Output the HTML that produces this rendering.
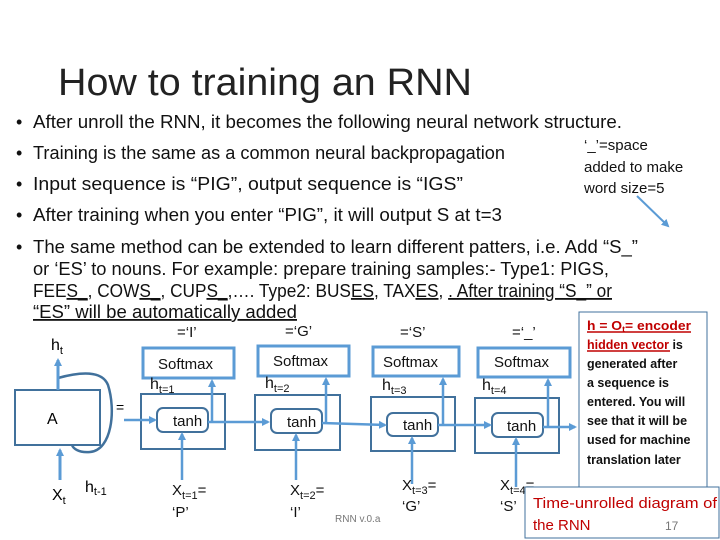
<!DOCTYPE html>
<html><head><meta charset="utf-8"><style>
html,body{margin:0;padding:0;background:#fff;}
svg{display:block;}
text{font-family:"Liberation Sans",sans-serif;}
</style></head><body>
<svg width="720" height="540" viewBox="0 0 720 540" xmlns="http://www.w3.org/2000/svg">
<defs>
<marker id="ar" markerWidth="8" markerHeight="8" refX="6" refY="4" orient="auto" markerUnits="userSpaceOnUse">
<path d="M0,0 L8,4 L0,8 z" fill="#5b9bd5"/></marker>
</defs>
<text x="58" y="95" font-size="38" fill="#222" textLength="414" lengthAdjust="spacingAndGlyphs">How to training an RNN</text>
<g font-size="18" fill="#111">
<text x="16" y="128">•</text><text x="33" y="128" textLength="589" lengthAdjust="spacingAndGlyphs">After unroll the RNN, it becomes the following neural network structure.</text>
<text x="16" y="159">•</text><text x="33" y="159" textLength="472" lengthAdjust="spacingAndGlyphs">Training is the same as a common neural backpropagation</text>
<text x="16" y="190">•</text><text x="33" y="190" textLength="430" lengthAdjust="spacingAndGlyphs">Input sequence is “PIG”, output sequence is “IGS”</text>
<text x="16" y="221">•</text><text x="33" y="221" textLength="469" lengthAdjust="spacingAndGlyphs">After training when you enter “PIG”, it will output S at t=3</text>
<text x="16" y="253">•</text><text x="33" y="253" textLength="605" lengthAdjust="spacingAndGlyphs">The same method can be extended to learn different patters, i.e. Add “S_”</text>
<text x="33" y="275" textLength="576" lengthAdjust="spacingAndGlyphs">or ‘ES’ to nouns. For example: prepare training samples:-  Type1:  PIGS,</text>
<text x="33" y="297" textLength="579" lengthAdjust="spacingAndGlyphs">FEE<tspan text-decoration="underline">S_</tspan>, COW<tspan text-decoration="underline">S_</tspan>, CUP<tspan text-decoration="underline">S_</tspan>,….  Type2: BUS<tspan text-decoration="underline">ES</tspan>, TAX<tspan text-decoration="underline">ES</tspan>, <tspan text-decoration="underline">.  After training “S_” or</tspan></text>
<text x="33" y="318" textLength="264" lengthAdjust="spacingAndGlyphs" text-decoration="underline">“ES” will be automatically added</text>
</g>
<g font-size="15" fill="#111">
<text x="584" y="150">‘_’=space</text>
<text x="584" y="172">added to make</text>
<text x="584" y="193">word size=5</text>
</g>
<line x1="637" y1="196" x2="668" y2="226" stroke="#5b9bd5" stroke-width="2" marker-end="url(#ar)"/>

<!-- folded A -->
<rect x="15" y="390" width="85" height="55" fill="none" stroke="#41719c" stroke-width="2"/>
<text x="47" y="424" font-size="16">A</text>
<path d="M58,378 C80,372 102,370 108,385 C116,410 112,450 90,452 C78,453 73,448 72,445" fill="none" stroke="#41719c" stroke-width="2.5"/>
<g stroke="#5b9bd5" stroke-width="3" fill="none">
<line x1="58" y1="390" x2="58" y2="360" marker-end="url(#ar)"/>
<line x1="60" y1="480" x2="60" y2="450" marker-end="url(#ar)"/>
</g>
<text x="51" y="350" font-size="16">h<tspan font-size="11" dy="4">t</tspan></text>
<text x="52" y="500" font-size="16">X<tspan font-size="11" dy="4">t</tspan></text>
<text x="85" y="492" font-size="16">h<tspan font-size="11" dy="3">t-1</tspan></text>
<text x="116" y="412" font-size="14">=</text>

<g stroke="#41719c" stroke-width="2" fill="none">
<rect x="141" y="394" width="84" height="55"/><rect x="255" y="395" width="85" height="55"/>
<rect x="371" y="397" width="84" height="54"/><rect x="475" y="398" width="84" height="55"/>
<rect x="157" y="408" width="51" height="24" rx="6" fill="#fff"/><rect x="271" y="409" width="51" height="24" rx="6" fill="#fff"/>
<rect x="387" y="413" width="51" height="23" rx="6" fill="#fff"/><rect x="492" y="413" width="51" height="24" rx="6" fill="#fff"/>
</g>
<g stroke="#5b9bd5" stroke-width="3" fill="none">
<rect x="143" y="348" width="91" height="30"/><rect x="258" y="346" width="91" height="30"/>
<rect x="373" y="347" width="86" height="29"/><rect x="478" y="348" width="92" height="29"/>
</g>
<g stroke="#5b9bd5" stroke-width="2.5" fill="none">
<line x1="124" y1="420" x2="155" y2="420" marker-end="url(#ar)"/>
<line x1="208" y1="422" x2="268" y2="422" marker-end="url(#ar)"/>
<line x1="322" y1="423" x2="385" y2="425" marker-end="url(#ar)"/>
<line x1="438" y1="425" x2="490" y2="425" marker-end="url(#ar)"/>
<line x1="543" y1="427" x2="575" y2="427" marker-end="url(#ar)"/>
<line x1="212" y1="422" x2="212" y2="381" marker-end="url(#ar)"/>
<line x1="326" y1="423" x2="326" y2="379" marker-end="url(#ar)"/>
<line x1="443" y1="425" x2="443" y2="379" marker-end="url(#ar)"/>
<line x1="548" y1="427" x2="548" y2="380" marker-end="url(#ar)"/>
<line x1="182" y1="480" x2="182" y2="434" marker-end="url(#ar)"/>
<line x1="296" y1="480" x2="296" y2="435" marker-end="url(#ar)"/>
<line x1="412" y1="484" x2="412" y2="438" marker-end="url(#ar)"/>
<line x1="516" y1="487" x2="516" y2="439" marker-end="url(#ar)"/>
</g>
<g font-size="15" fill="#111">
<text x="158" y="369">Softmax</text><text x="273" y="366">Softmax</text>
<text x="383" y="367">Softmax</text><text x="494" y="367">Softmax</text>
<text x="173" y="426">tanh</text><text x="287" y="427">tanh</text>
<text x="403" y="430">tanh</text><text x="507" y="431">tanh</text>
<text x="177" y="337">=‘I’</text><text x="285" y="336">=‘G’</text>
<text x="400" y="337">=‘S’</text><text x="512" y="337">=‘_’</text>
<text x="150" y="389" font-size="16">h<tspan font-size="11" dy="4">t=1</tspan></text>
<text x="265" y="388" font-size="16">h<tspan font-size="11" dy="4">t=2</tspan></text>
<text x="382" y="390" font-size="16">h<tspan font-size="11" dy="4">t=3</tspan></text>
<text x="482" y="390" font-size="16">h<tspan font-size="11" dy="4">t=4</tspan></text>
<text x="172" y="495">X<tspan font-size="11" dy="4">t=1</tspan><tspan dy="-4">=</tspan></text><text x="172" y="517">‘P’</text>
<text x="290" y="495">X<tspan font-size="11" dy="4">t=2</tspan><tspan dy="-4">=</tspan></text><text x="290" y="517">‘I’</text>
<text x="402" y="490">X<tspan font-size="11" dy="4">t=3</tspan><tspan dy="-4">=</tspan></text><text x="402" y="511">‘G’</text>
<text x="500" y="490">X<tspan font-size="11" dy="4">t=4</tspan><tspan dy="-4">=</tspan></text><text x="500" y="511">‘S’</text>
</g>
<text x="335" y="522" font-size="10" fill="#777">RNN v.0.a</text>

<rect x="579" y="312" width="128" height="181" fill="#fff" stroke="#41719c" stroke-width="1"/>
<g font-size="12.5" font-weight="bold" fill="#111">
<text x="587" y="330" fill="#c00000" textLength="104" lengthAdjust="spacingAndGlyphs">h = O<tspan font-size="8" dy="2">t</tspan><tspan dy="-2">= encoder</tspan></text>
<text x="587" y="349"><tspan fill="#c00000">hidden vector</tspan> is</text>
<text x="587" y="368">generated after</text>
<text x="587" y="387">a sequence is</text>
<text x="587" y="406">entered. You will</text>
<text x="587" y="425">see that it will be</text>
<text x="587" y="444">used for machine</text>
<text x="587" y="464">translation later</text>
</g>
<line x1="587" y1="332" x2="691" y2="332" stroke="#c00000" stroke-width="1.5"/>
<line x1="587" y1="351" x2="670" y2="351" stroke="#c00000" stroke-width="1.5"/>
<rect x="525" y="487" width="194" height="51" fill="#fff" stroke="#41719c" stroke-width="1"/>
<text x="533" y="508" font-size="15" fill="#c00000" textLength="184" lengthAdjust="spacingAndGlyphs">Time-unrolled diagram of</text>
<text x="533" y="530" font-size="15" fill="#c00000">the RNN</text>
<text x="665" y="530" font-size="12" fill="#777">17</text>
</svg>
</body></html>
